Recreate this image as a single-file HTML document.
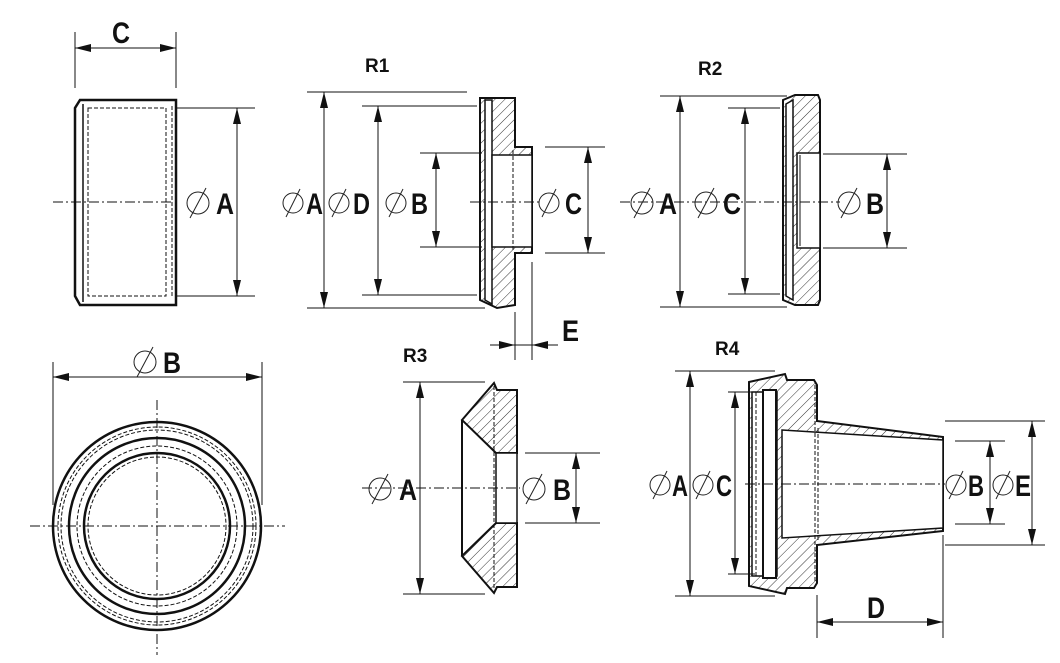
<!DOCTYPE html>
<html><head><meta charset="utf-8"><style>
html,body{margin:0;padding:0;background:#fff;}
svg{display:block;}
text{font-family:"Liberation Sans",Arial,sans-serif;font-weight:bold;font-size:30px;fill:#111;}
text.r{font-size:19px;}
</style></head><body>
<svg width="1060" height="663" viewBox="0 0 1060 663" xmlns="http://www.w3.org/2000/svg">
<defs>
<marker id="a" viewBox="0 0 16 8" refX="16" refY="4" markerWidth="16" markerHeight="8" markerUnits="userSpaceOnUse" orient="auto-start-reverse"><path d="M16,4 L0,0 L0,8z" fill="#111"/></marker>
<pattern id="h" width="7" height="7" patternUnits="userSpaceOnUse" patternTransform="rotate(45)"><rect width="7" height="7" fill="#fff"/><line x1="0" y1="0" x2="0" y2="7" stroke="#333" stroke-width="1"/></pattern>
</defs>
<g fill="none" stroke="#111" stroke-width="1">
<!-- Part 1 -->
<path d="M80,100 L176,100 L176,305 L80,305 L75,296 L75,108 Z" stroke-width="2.5"/>
<line x1="83" y1="104" x2="83" y2="302" stroke-width="1.5"/>
<rect x="88" y="108" width="78" height="188" stroke-dasharray="4,2"/>
<line x1="172" y1="106" x2="172" y2="298" stroke-dasharray="4,2"/>
<line x1="53" y1="202" x2="172" y2="202" stroke-dasharray="10,3,2,3"/>
<line x1="176" y1="108" x2="255" y2="108"/><line x1="176" y1="296" x2="255" y2="296"/>
<line x1="237" y1="108" x2="237" y2="296" marker-start="url(#a)" marker-end="url(#a)"/>
<line x1="75" y1="32" x2="75" y2="88"/><line x1="176" y1="32" x2="176" y2="88"/>
<line x1="75" y1="48" x2="176" y2="48" marker-start="url(#a)" marker-end="url(#a)"/>
<!-- Circle view -->
<circle cx="157" cy="526" r="104" stroke-width="2.5"/>
<circle cx="157" cy="526" r="99" stroke-dasharray="4,2"/>
<circle cx="157" cy="526" r="96" stroke-dasharray="4,2"/>
<circle cx="157" cy="526" r="88" stroke-width="2.5"/>
<circle cx="157" cy="526" r="80" stroke-dasharray="4,2"/>
<circle cx="157" cy="526" r="73" stroke-width="2.5"/>
<circle cx="157" cy="526" r="69" stroke-dasharray="4,2"/>
<line x1="30" y1="526" x2="285" y2="526" stroke-dasharray="10,3,2,3"/>
<line x1="157" y1="400" x2="157" y2="655" stroke-dasharray="10,3,2,3"/>
<line x1="53" y1="362" x2="53" y2="505"/><line x1="262" y1="362" x2="262" y2="505"/>
<line x1="53" y1="377" x2="262" y2="377" marker-start="url(#a)" marker-end="url(#a)"/>
<!-- R1 -->
<path d="M480,98 L515,98 L515,147 L532,147 L532,253 L515,253 L515,305 L497,308 L480,300 Z" fill="url(#h)" stroke-width="2"/>
<path d="M485,100 L492,100 L492,304 L485,300 Z" fill="#fff" stroke-width="1.5"/>
<rect x="492" y="155" width="40" height="92" fill="#fff" stroke-width="1.5"/>
<line x1="513" y1="150" x2="513" y2="250" stroke-dasharray="4,2"/>
<line x1="470" y1="202" x2="540" y2="202" stroke-dasharray="10,3,2,3"/>
<line x1="307" y1="92" x2="467" y2="92"/><line x1="307" y1="308" x2="485" y2="308"/>
<line x1="324" y1="92" x2="324" y2="308" marker-start="url(#a)" marker-end="url(#a)"/>
<line x1="362" y1="106" x2="477" y2="106"/><line x1="362" y1="295" x2="477" y2="295"/>
<line x1="378" y1="106" x2="378" y2="295" marker-start="url(#a)" marker-end="url(#a)"/>
<line x1="420" y1="153" x2="482" y2="153"/><line x1="420" y1="247" x2="482" y2="247"/>
<line x1="436" y1="153" x2="436" y2="247" marker-start="url(#a)" marker-end="url(#a)"/>
<line x1="545" y1="147" x2="605" y2="147"/><line x1="545" y1="253" x2="605" y2="253"/>
<line x1="588" y1="147" x2="588" y2="253" marker-start="url(#a)" marker-end="url(#a)"/>
<line x1="515" y1="312" x2="515" y2="360"/><line x1="532" y1="262" x2="532" y2="360"/>
<line x1="490" y1="345" x2="515" y2="345" marker-end="url(#a)"/>
<line x1="558" y1="345" x2="532" y2="345" marker-end="url(#a)"/>
<line x1="515" y1="345" x2="532" y2="345"/>
<!-- R2 -->
<path d="M783,100 L795,95 L818,95 L820,100 L820,300 L818,305 L795,305 L783,300 Z" fill="url(#h)" stroke-width="2"/>
<path d="M786,104 L793,100 L793,300 L786,296 Z" fill="#fff" stroke-width="1.5"/>
<rect x="797" y="153" width="23" height="95" fill="#fff" stroke-width="1.5"/>
<line x1="800" y1="155" x2="800" y2="246"/>
<line x1="620" y1="202" x2="840" y2="202" stroke-dasharray="10,3,2,3"/>
<line x1="660" y1="96" x2="787" y2="96"/><line x1="660" y1="307" x2="787" y2="307"/>
<line x1="680" y1="96" x2="680" y2="307" marker-start="url(#a)" marker-end="url(#a)"/>
<line x1="728" y1="108" x2="780" y2="108"/><line x1="728" y1="294" x2="780" y2="294"/>
<line x1="745" y1="108" x2="745" y2="294" marker-start="url(#a)" marker-end="url(#a)"/>
<line x1="823" y1="154" x2="907" y2="154"/><line x1="823" y1="248" x2="907" y2="248"/>
<line x1="887" y1="154" x2="887" y2="248" marker-start="url(#a)" marker-end="url(#a)"/>
<!-- R3 -->
<path d="M462,420 L494,383 L497,390 L517,390 L517,453 L496,453 Z" fill="url(#h)" stroke-width="2"/>
<path d="M462,556 L496,523 L517,523 L517,587 L497,587 L494,593 Z" fill="url(#h)" stroke-width="2"/>
<line x1="462" y1="420" x2="462" y2="556" stroke-width="2"/>
<rect x="496" y="453" width="21" height="70" fill="#fff" stroke-width="1.5"/>
<line x1="494" y1="386" x2="494" y2="590" stroke-dasharray="4,2"/>
<line x1="362" y1="488" x2="520" y2="488" stroke-dasharray="10,3,2,3"/>
<line x1="403" y1="382" x2="485" y2="382"/><line x1="403" y1="594" x2="485" y2="594"/>
<line x1="420" y1="382" x2="420" y2="594" marker-start="url(#a)" marker-end="url(#a)"/>
<line x1="525" y1="453" x2="600" y2="453"/><line x1="525" y1="523" x2="600" y2="523"/>
<line x1="576" y1="453" x2="576" y2="523" marker-start="url(#a)" marker-end="url(#a)"/>
<!-- R4 -->
<path d="M749,382 L785,374 L787,380 L814,380 L817,385 L817,421 L943,437 L943,531 L817,545 L817,583 L814,588 L787,588 L785,594 L749,586 Z" fill="url(#h)" stroke-width="2"/>
<path d="M782,430 L943,440 L943,528 L782,538 Z" fill="#fff" stroke-width="1.5"/>
<rect x="752" y="392" width="25" height="184" fill="#fff" stroke-width="1.5"/>
<rect x="763" y="390" width="13" height="188" fill="#fff" stroke-width="2"/>
<line x1="756" y1="392" x2="756" y2="576" stroke-dasharray="4,2"/>
<line x1="815" y1="385" x2="815" y2="583" stroke-dasharray="4,2"/>
<line x1="818" y1="428" x2="818" y2="540" stroke-dasharray="4,2"/>
<line x1="745" y1="484" x2="945" y2="484" stroke-dasharray="10,3,2,3"/>
<line x1="675" y1="371" x2="775" y2="371"/><line x1="675" y1="596" x2="775" y2="596"/>
<line x1="690" y1="371" x2="690" y2="596" marker-start="url(#a)" marker-end="url(#a)"/>
<line x1="728" y1="392" x2="755" y2="392"/><line x1="728" y1="574" x2="755" y2="574"/>
<line x1="735" y1="392" x2="735" y2="574" marker-start="url(#a)" marker-end="url(#a)"/>
<line x1="945" y1="421" x2="1045" y2="421"/><line x1="945" y1="545" x2="1045" y2="545"/>
<line x1="1032" y1="421" x2="1032" y2="545" marker-start="url(#a)" marker-end="url(#a)"/>
<line x1="955" y1="441" x2="1005" y2="441"/><line x1="955" y1="524" x2="1005" y2="524"/>
<line x1="990" y1="441" x2="990" y2="524" marker-start="url(#a)" marker-end="url(#a)"/>
<line x1="817" y1="595" x2="817" y2="638"/><line x1="943" y1="535" x2="943" y2="638"/>
<line x1="817" y1="622" x2="943" y2="622" marker-start="url(#a)" marker-end="url(#a)"/>
</g>
<!-- diameter symbols -->
<g fill="none" stroke="#222" stroke-width="1">
<g transform="translate(198,203)"><circle r="11"/><line x1="-8" y1="15" x2="8" y2="-15"/></g>
<g transform="translate(293,203)"><circle r="10"/><line x1="-7" y1="14" x2="7" y2="-14"/></g>
<g transform="translate(339,203)"><circle r="10"/><line x1="-7" y1="14" x2="7" y2="-14"/></g>
<g transform="translate(396,203)"><circle r="10"/><line x1="-7" y1="14" x2="7" y2="-14"/></g>
<g transform="translate(549,203)"><circle r="10"/><line x1="-7" y1="14" x2="7" y2="-14"/></g>
<g transform="translate(642,203)"><circle r="11"/><line x1="-8" y1="15" x2="8" y2="-15"/></g>
<g transform="translate(706,203)"><circle r="11"/><line x1="-8" y1="15" x2="8" y2="-15"/></g>
<g transform="translate(849,203)"><circle r="11"/><line x1="-8" y1="15" x2="8" y2="-15"/></g>
<g transform="translate(145,362)"><circle r="11"/><line x1="-8" y1="15" x2="8" y2="-15"/></g>
<g transform="translate(380,489)"><circle r="11"/><line x1="-8" y1="15" x2="8" y2="-15"/></g>
<g transform="translate(534,489)"><circle r="11"/><line x1="-8" y1="15" x2="8" y2="-15"/></g>
<g transform="translate(660,485)"><circle r="10"/><line x1="-7" y1="14" x2="7" y2="-14"/></g>
<g transform="translate(703,485)"><circle r="10"/><line x1="-7" y1="14" x2="7" y2="-14"/></g>
<g transform="translate(956,485)"><circle r="10"/><line x1="-7" y1="14" x2="7" y2="-14"/></g>
<g transform="translate(1003,485)"><circle r="10"/><line x1="-7" y1="14" x2="7" y2="-14"/></g>
</g>
<g>
<text x="112" y="43" textLength="18" lengthAdjust="spacingAndGlyphs">C</text>
<text x="216" y="214" textLength="18" lengthAdjust="spacingAndGlyphs">A</text>
<text class="r" x="365" y="72">R1</text>
<text x="306" y="214" textLength="17" lengthAdjust="spacingAndGlyphs">A</text>
<text x="353" y="214" textLength="17" lengthAdjust="spacingAndGlyphs">D</text>
<text x="411" y="214" textLength="17" lengthAdjust="spacingAndGlyphs">B</text>
<text x="565" y="214" textLength="17" lengthAdjust="spacingAndGlyphs">C</text>
<text x="562" y="341" textLength="17" lengthAdjust="spacingAndGlyphs">E</text>
<text class="r" x="698" y="75">R2</text>
<text x="659" y="214" textLength="18" lengthAdjust="spacingAndGlyphs">A</text>
<text x="723" y="214" textLength="18" lengthAdjust="spacingAndGlyphs">C</text>
<text x="866" y="214" textLength="18" lengthAdjust="spacingAndGlyphs">B</text>
<text x="163" y="373" textLength="18" lengthAdjust="spacingAndGlyphs">B</text>
<text class="r" x="403" y="362">R3</text>
<text x="399" y="500" textLength="18" lengthAdjust="spacingAndGlyphs">A</text>
<text x="553" y="500" textLength="18" lengthAdjust="spacingAndGlyphs">B</text>
<text class="r" x="715" y="355">R4</text>
<text x="672" y="496" textLength="16" lengthAdjust="spacingAndGlyphs">A</text>
<text x="716" y="496" textLength="16" lengthAdjust="spacingAndGlyphs">C</text>
<text x="968" y="496" textLength="16" lengthAdjust="spacingAndGlyphs">B</text>
<text x="1015" y="496" textLength="16" lengthAdjust="spacingAndGlyphs">E</text>
<text x="867" y="618" textLength="18" lengthAdjust="spacingAndGlyphs">D</text>
</g>
</svg>
</body></html>
